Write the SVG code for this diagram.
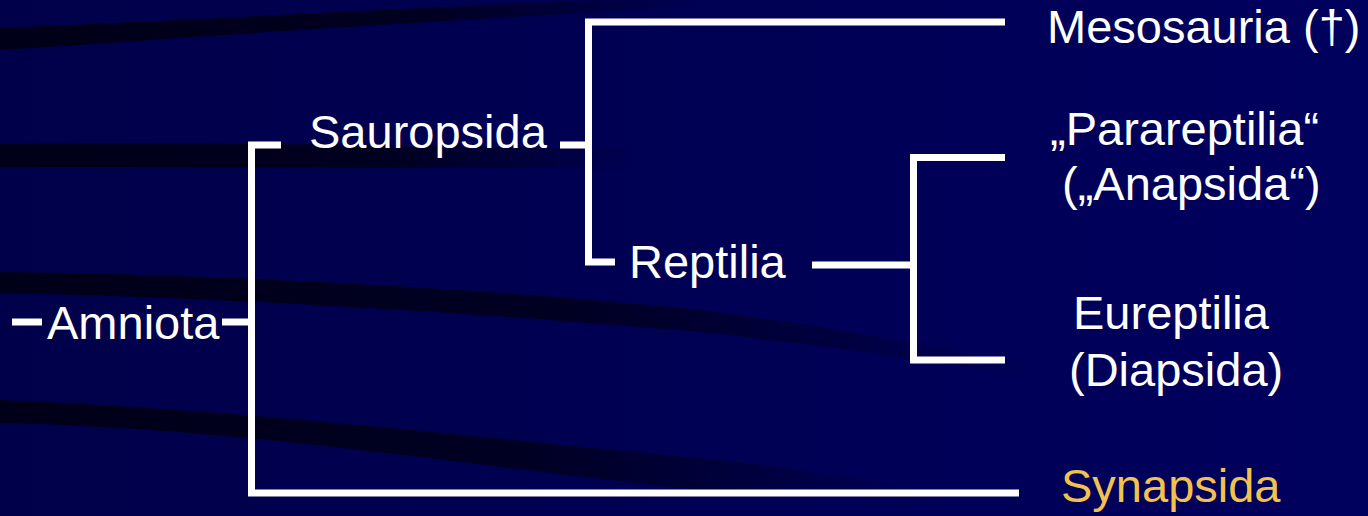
<svg xmlns="http://www.w3.org/2000/svg" width="1368" height="516" viewBox="0 0 1368 516">
  <defs>
    <linearGradient id="bg" x1="0" y1="0" x2="1" y2="0">
      <stop offset="0" stop-color="#00004A"/>
      <stop offset="1" stop-color="#00005E"/>
    </linearGradient>
    <linearGradient id="fadeShort" x1="0" y1="0" x2="1" y2="0">
      <stop offset="0" stop-color="#000018" stop-opacity="1"/>
      <stop offset="0.6" stop-color="#000018" stop-opacity="0.85"/>
      <stop offset="1" stop-color="#000018" stop-opacity="0"/>
    </linearGradient>
    <linearGradient id="fadeLong" x1="0" y1="0" x2="1" y2="0">
      <stop offset="0" stop-color="#000018" stop-opacity="1"/>
      <stop offset="0.55" stop-color="#000018" stop-opacity="0.8"/>
      <stop offset="1" stop-color="#000018" stop-opacity="0"/>
    </linearGradient>
    <style>
      .line { fill: none; stroke: #FFFFFF; stroke-width: 7; stroke-linejoin: miter; stroke-linecap: butt; }
      .lbl { font-family: "Liberation Sans", Arial, sans-serif; font-size: 47px; fill: #FFFFFF; }
      .out { fill: #F2C14E; }
    </style>
  </defs>

  <g id="background">
    <rect x="0" y="0" width="1368" height="516" fill="url(#bg)"/>
    <path d="M0,28 C200,20 400,8 700,-4 L700,8 C450,18 220,36 0,50 Z" fill="url(#fadeShort)"/>
    <path d="M0,143 C200,143 400,145 640,148 L640,168 C400,168 200,167 0,167 Z" fill="url(#fadeShort)"/>
    <path d="M0,272 C250,275 500,290 700,310 C820,325 930,345 1040,368 L1040,380 C930,360 820,345 700,332 C500,315 250,298 0,293 Z" fill="url(#fadeLong)"/>
    <path d="M0,400 C250,410 500,440 700,458 C780,466 860,478 940,492 L940,500 C860,496 780,492 700,490 C500,470 250,428 0,423 Z" fill="url(#fadeLong)"/>
  </g>

  <g id="connectors">
    <path class="line" d="M12,322 H42"/>
    <path class="line" d="M222,322 H251.5"/>
    <path class="line" d="M281,145 H251.5 V493 H1019"/>
    <path class="line" d="M560,145 H588.5"/>
    <path class="line" d="M1005,22 H588.5 V262 H615"/>
    <path class="line" d="M812,265 H913.5"/>
    <path class="line" d="M1005,157.5 H913.5 V360 H1005"/>
  </g>

  <g id="node-amniota"><text class="lbl" x="47" y="339">Amniota</text></g>
  <g id="node-sauropsida"><text class="lbl" x="309" y="148">Sauropsida</text></g>
  <g id="node-mesosauria"><text class="lbl" x="1047" y="43">Mesosauria (†)</text></g>
  <g id="node-reptilia"><text class="lbl" x="629" y="278">Reptilia</text></g>
  <g id="node-parareptilia">
    <text class="lbl" x="1050" y="145">„Parareptilia“</text>
    <text class="lbl" x="1062" y="200">(„Anapsida“)</text>
  </g>
  <g id="node-eureptilia">
    <text class="lbl" x="1073" y="329">Eureptilia</text>
    <text class="lbl" x="1069" y="386">(Diapsida)</text>
  </g>
  <g id="node-synapsida"><text class="lbl out" x="1061" y="502">Synapsida</text></g>
</svg>
